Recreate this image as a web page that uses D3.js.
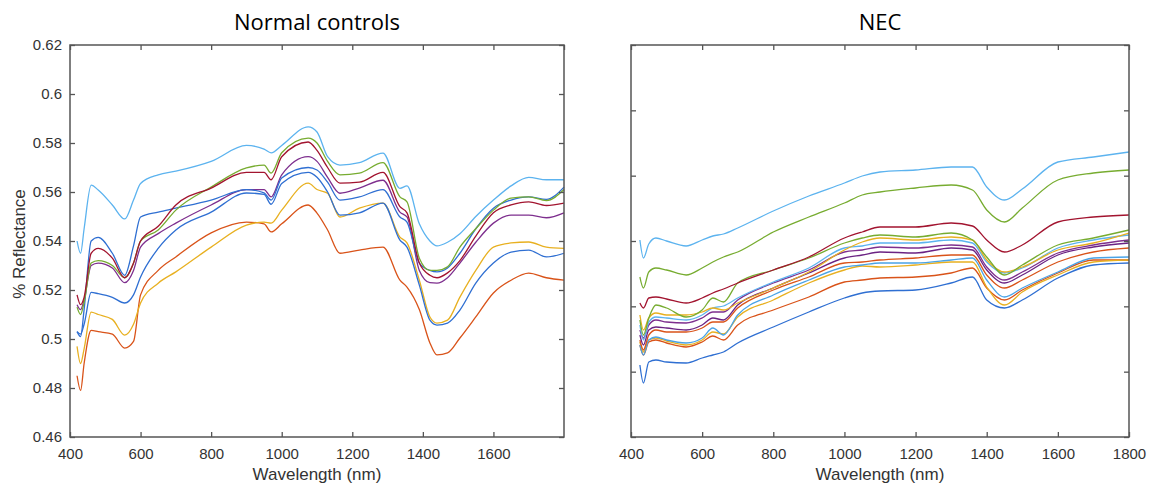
<!DOCTYPE html>
<html lang="en">
<head>
<meta charset="UTF-8">
<script src="https://cdn.jsdelivr.net/npm/d3@7"></script>
<title>Reflectance spectra</title>
<style>
  body { margin: 0; background: #fff; }
  svg text { font-family: "Liberation Sans", Arial, sans-serif; fill: #333; }
  .title { font-family: "Open Sans", sans-serif; font-size: 22px; fill: #000; }
</style>
</head>
<body>
<svg id="chart" width="1157" height="491"></svg>
<script>
// ---- Normal controls: wavelengths (nm) and % reflectance ----
var wlNormal = [420, 430, 440, 460, 480, 520, 555, 580, 600, 650, 700, 800, 900, 950, 970, 1000, 1075, 1100,
  1130, 1165, 1220, 1287, 1335, 1355, 1390, 1420, 1440, 1470, 1505, 1550, 1600, 1650, 1700, 1750, 1800];

var nLightBlue = [0.540, 0.535, 0.545, 0.5628, 0.5608, 0.5547, 0.549, 0.5567, 0.5635, 0.567, 0.5685, 0.5725, 0.579, 0.5775, 0.576, 0.579, 0.5866, 0.5845,
  0.5744, 0.571, 0.572, 0.5759, 0.5615, 0.5625, 0.547, 0.540, 0.538, 0.5395, 0.543, 0.550, 0.5567, 0.5625, 0.566, 0.565, 0.565];
var nGreen = [0.513, 0.510, 0.515, 0.531, 0.532, 0.530, 0.525, 0.531, 0.540, 0.5445, 0.5526, 0.562, 0.5698, 0.571, 0.5677, 0.576, 0.582, 0.580,
  0.5725, 0.567, 0.5677, 0.572, 0.558, 0.556, 0.533, 0.528, 0.528, 0.5295, 0.5375, 0.545, 0.5526, 0.5575, 0.558, 0.5565, 0.561];
var nDarkRed = [0.518, 0.514, 0.517, 0.535, 0.537, 0.533, 0.525, 0.531, 0.540, 0.546, 0.5547, 0.5616, 0.568, 0.568, 0.565, 0.5744, 0.5804, 0.577,
  0.570, 0.5636, 0.564, 0.568, 0.554, 0.5515, 0.531, 0.526, 0.525, 0.527, 0.532, 0.542, 0.5515, 0.5547, 0.556, 0.5545, 0.5555];
var nPurple = [0.514, 0.512, 0.516, 0.530, 0.531, 0.529, 0.523, 0.528, 0.5375, 0.543, 0.5473, 0.5547, 0.561, 0.561, 0.558, 0.567, 0.5744, 0.5725,
  0.566, 0.5595, 0.5616, 0.5648, 0.5518, 0.5498, 0.528, 0.523, 0.5228, 0.525, 0.531, 0.5395, 0.5473, 0.5506, 0.5506, 0.5495, 0.5515];
var nBlueA = [0.503, 0.501, 0.512, 0.540, 0.5415, 0.535, 0.526, 0.538, 0.5498, 0.5518, 0.5534, 0.5567, 0.561, 0.5596, 0.5567, 0.5657, 0.570, 0.569,
  0.564, 0.5567, 0.558, 0.561, 0.5498, 0.5477, 0.531, 0.528, 0.5274, 0.529, 0.535, 0.545, 0.5534, 0.5567, 0.558, 0.557, 0.562];
var nBlueB = [0.503, 0.502, 0.506, 0.519, 0.5185, 0.517, 0.5147, 0.518, 0.5253, 0.537, 0.5445, 0.5518, 0.5596, 0.559, 0.555, 0.5635, 0.568, 0.566,
  0.560, 0.5506, 0.5515, 0.5555, 0.5404, 0.5375, 0.522, 0.5077, 0.5057, 0.5065, 0.5118, 0.5228, 0.531, 0.5355, 0.5363, 0.5335, 0.535];
var nYellow = [0.497, 0.490, 0.496, 0.511, 0.510, 0.508, 0.5016, 0.506, 0.5147, 0.5228, 0.5274, 0.5375, 0.5465, 0.5477, 0.5473, 0.5526, 0.5636, 0.561,
  0.5595, 0.5498, 0.5534, 0.5555, 0.5416, 0.5392, 0.524, 0.509, 0.5065, 0.5077, 0.5171, 0.528, 0.5375, 0.5392, 0.5396, 0.5375, 0.537];
var nOrange = [0.485, 0.479, 0.490, 0.5035, 0.503, 0.502, 0.4963, 0.499, 0.518, 0.528, 0.5335, 0.5433, 0.5477, 0.547, 0.5437, 0.547, 0.5547, 0.5514,
  0.5445, 0.535, 0.5363, 0.5375, 0.524, 0.5212, 0.512, 0.4984, 0.4935, 0.4943, 0.5004, 0.509, 0.5188, 0.524, 0.5269, 0.525, 0.524];

// ---- NEC: no reflectance labels on this axis, values in the same kind of units ----
var wlNec = [425, 435, 450, 470, 500, 555, 600, 630, 660, 700, 800, 900, 1000, 1050, 1100, 1200, 1300, 1360,
  1400, 1450, 1500, 1600, 1700, 1800];

var eLightBlue = [0.5225, 0.5135, 0.5205, 0.5235, 0.522, 0.5195, 0.5225, 0.5245, 0.5255, 0.5285, 0.537, 0.5445, 0.551, 0.5545, 0.5565, 0.5575, 0.559, 0.559,
  0.549, 0.5425, 0.548, 0.5615, 0.564, 0.5665];
var eGreen = [0.504, 0.4985, 0.5065, 0.5085, 0.5075, 0.505, 0.5085, 0.5115, 0.514, 0.5165, 0.5265, 0.534, 0.541, 0.545, 0.5465, 0.5485, 0.55, 0.5475,
  0.5375, 0.5315, 0.5385, 0.5525, 0.556, 0.5575];
var eDarkRed = [0.491, 0.4885, 0.4935, 0.494, 0.493, 0.491, 0.4935, 0.496, 0.498, 0.501, 0.5075, 0.514, 0.5235, 0.5265, 0.529, 0.529, 0.531, 0.5295,
  0.5225, 0.5165, 0.520, 0.5315, 0.534, 0.535];
var eGreen2 = [0.4825, 0.475, 0.4835, 0.490, 0.4885, 0.484, 0.4875, 0.4935, 0.4915, 0.501, 0.5075, 0.5135, 0.521, 0.5235, 0.525, 0.524, 0.526, 0.5225,
  0.514, 0.505, 0.510, 0.520, 0.5235, 0.5275];
var eYellow = [0.485, 0.4775, 0.4835, 0.486, 0.485, 0.485, 0.4865, 0.4885, 0.4875, 0.491, 0.4985, 0.5065, 0.5175, 0.5215, 0.5235, 0.5225, 0.524, 0.5225,
  0.5125, 0.5065, 0.509, 0.5175, 0.521, 0.526];
var eLightBlue2 = [0.480, 0.4725, 0.4815, 0.484, 0.4835, 0.4825, 0.485, 0.4885, 0.4895, 0.4935, 0.5015, 0.5085, 0.5185, 0.5195, 0.521, 0.521, 0.5225, 0.521,
  0.5115, 0.506, 0.5085, 0.5185, 0.5225, 0.525];
var ePurple = [0.4775, 0.4735, 0.480, 0.4825, 0.4815, 0.481, 0.4835, 0.4865, 0.4865, 0.4925, 0.501, 0.5075, 0.5165, 0.5175, 0.519, 0.5185, 0.520, 0.519,
  0.509, 0.5025, 0.5065, 0.516, 0.520, 0.5225];
var ePurple2 = [0.475, 0.470, 0.4775, 0.479, 0.4785, 0.4775, 0.480, 0.4835, 0.4825, 0.490, 0.4985, 0.506, 0.5135, 0.515, 0.5165, 0.516, 0.5185, 0.5175,
  0.5075, 0.501, 0.505, 0.515, 0.519, 0.521];
var eOrange = [0.4725, 0.4675, 0.475, 0.4775, 0.4765, 0.4765, 0.4785, 0.4815, 0.4815, 0.4885, 0.4975, 0.504, 0.511, 0.5115, 0.5125, 0.5135, 0.515, 0.515,
  0.505, 0.4985, 0.5025, 0.5115, 0.5165, 0.5185];
var eSky = [0.470, 0.465, 0.4725, 0.474, 0.4725, 0.471, 0.4735, 0.4785, 0.475, 0.485, 0.495, 0.5025, 0.509, 0.510, 0.511, 0.511, 0.5125, 0.5135,
  0.5025, 0.494, 0.4985, 0.5065, 0.5135, 0.514];
var eYellow2 = [0.4715, 0.4665, 0.4725, 0.4735, 0.472, 0.470, 0.4725, 0.4765, 0.4755, 0.484, 0.4925, 0.501, 0.5075, 0.5095, 0.509, 0.510, 0.5115, 0.5115,
  0.499, 0.490, 0.4965, 0.505, 0.5115, 0.5125];
var eOrange2 = [0.470, 0.465, 0.4715, 0.4725, 0.471, 0.469, 0.4715, 0.4745, 0.4725, 0.480, 0.4875, 0.494, 0.5015, 0.5025, 0.5035, 0.504, 0.506, 0.5085,
  0.4985, 0.4925, 0.4975, 0.506, 0.5125, 0.5125];
var eBlue = [0.460, 0.451, 0.4615, 0.4625, 0.4615, 0.461, 0.4635, 0.465, 0.4665, 0.471, 0.479, 0.4865, 0.4935, 0.496, 0.497, 0.4975, 0.501, 0.504,
  0.4925, 0.4885, 0.4925, 0.5035, 0.510, 0.511];

// axis ticks
var xTicks = [400, 600, 800, 1000, 1200, 1400, 1600, 1800];
var yTicksNormal = [0.46, 0.48, 0.5, 0.52, 0.54, 0.56, 0.58, 0.6, 0.62];

// matlab-like colours
var C = {
  blue: "#2f6fd2", orange: "#d95319", yellow: "#e8b020", purple: "#7e2f8e",
  green: "#77ac30", sky: "#5cb3ef", darkred: "#a2142f", purple2: "#6b2383"
};

var normalSeries = [
  { c: C.orange, v: nOrange }, { c: C.yellow, v: nYellow }, { c: C.blue, v: nBlueB },
  { c: C.purple, v: nPurple }, { c: C.blue, v: nBlueA }, { c: C.green, v: nGreen },
  { c: C.darkred, v: nDarkRed }, { c: C.sky, v: nLightBlue }
];
var necSeries = [
  { c: C.blue, v: eBlue }, { c: C.orange, v: eOrange2 }, { c: C.yellow, v: eYellow2 },
  { c: "#4aa3e6", v: eSky }, { c: C.orange, v: eOrange }, { c: C.purple2, v: ePurple2 },
  { c: C.purple, v: ePurple }, { c: C.sky, v: eLightBlue2 }, { c: C.yellow, v: eYellow },
  { c: C.green, v: eGreen2 }, { c: C.darkred, v: eDarkRed }, { c: C.green, v: eGreen },
  { c: C.sky, v: eLightBlue }
];

var svg = d3.select("#chart");

function panel(opt) {
  var x = d3.scaleLinear().domain([400, 1800]).range([opt.left, opt.right]);
  var y = d3.scaleLinear().domain(opt.yDomain).range([437, 45]);
  var g = svg.append("g");

  // curves
  var line = d3.line().curve(d3.curveMonotoneX);
  opt.series.forEach(function (s) {
    var pts = opt.wl.map(function (w, i) { return [x(w), y(s.v[i])]; });
    g.append("path")
      .attr("d", line(pts))
      .attr("fill", "none")
      .attr("stroke", s.c)
      .attr("stroke-width", 1.3)
      .attr("stroke-linejoin", "round");
  });

  // box axes, ticks pointing inward
  var xt = xTicks.filter(function (t) { return t <= opt.lastXLabel; });
  var bottom = g.append("g").attr("transform", "translate(0,437)")
    .call(d3.axisBottom(x).tickValues(xt).tickSizeInner(-5).tickSizeOuter(0).tickPadding(11)
      .tickFormat(d3.format("d")));
  var top = g.append("g").attr("transform", "translate(0,45)")
    .call(d3.axisTop(x).tickValues(xTicks).tickSizeInner(-5).tickSizeOuter(0).tickFormat(""));
  var leftAx = g.append("g").attr("transform", "translate(" + opt.left + ",0)")
    .call(d3.axisLeft(y).tickValues(opt.yTicks).tickSizeInner(-5).tickSizeOuter(0).tickPadding(8)
      .tickFormat(opt.yLabels ? function (d) { return String(+d.toFixed(2)); } : ""));
  var rightAx = g.append("g").attr("transform", "translate(" + opt.right + ",0)")
    .call(d3.axisRight(y).tickValues(opt.yTicks).tickSizeInner(-5).tickSizeOuter(0).tickFormat(""));

  [bottom, top, leftAx, rightAx].forEach(function (a) {
    a.select(".domain").remove();
    a.selectAll(".tick line").attr("stroke", "#555").attr("stroke-width", 1.3);
    a.selectAll(".tick text").style("font-size", "15px").attr("fill", "#333");
  });
  g.append("rect")
    .attr("x", opt.left).attr("y", 45)
    .attr("width", opt.right - opt.left).attr("height", 392)
    .attr("fill", "none").attr("stroke", "#555").attr("stroke-width", 1.5);

  // labels
  var cx = (opt.left + opt.right) / 2;
  g.append("text").attr("class", "title")
    .attr("x", cx).attr("y", 30).attr("text-anchor", "middle")
    .text(opt.title);
  g.append("text")
    .attr("x", cx).attr("y", 480).attr("text-anchor", "middle")
    .style("font-size", "17px")
    .text("Wavelength (nm)");
}

panel({
  left: 70, right: 564, wl: wlNormal, series: normalSeries,
  yDomain: [0.46, 0.62], yTicks: yTicksNormal, yLabels: true,
  lastXLabel: 1600, title: "Normal controls"
});

// right panel has six unlabelled intervals on y
var necDomain = [0.424, 0.62];
panel({
  left: 631, right: 1129, wl: wlNec, series: necSeries,
  yDomain: necDomain,
  yTicks: d3.range(7).map(function (i) { return necDomain[0] + i * (necDomain[1] - necDomain[0]) / 6; }),
  yLabels: false, lastXLabel: 1800, title: "NEC"
});

svg.append("text")
  .attr("transform", "translate(25,244) rotate(-90)")
  .attr("text-anchor", "middle")
  .style("font-size", "17px")
  .text("% Reflectance");
</script>
</body>
</html>
